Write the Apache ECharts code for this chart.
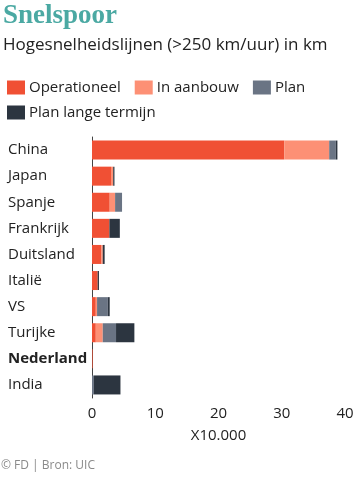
<!DOCTYPE html>
<html>
<head>
<meta charset="utf-8">
<script src="https://cdn.jsdelivr.net/npm/echarts@6/dist/echarts.min.js"></script>
<style>html,body{margin:0;padding:0;background:#fff}#c{width:360px;height:481px}</style>
</head>
<body>
<div id="c"></div>
<script>
var categories = ['China','Japan','Spanje','Frankrijk','Duitsland','Italië','VS','Turijke','Nederland','India'];
var operationeel = [30.4, 3.0, 2.8, 2.75, 1.5, 0.9, 0.6, 0.6, 0.1, 0];
var inAanbouw    = [7.1, 0.35, 0.85, 0, 0.2, 0, 0.2, 1.1, 0, 0];
var plan         = [1.05, 0, 1.1, 0, 0, 0, 1.7, 2.1, 0, 0.3];
var planLang     = [0.25, 0.2, 0, 1.65, 0.3, 0.2, 0.3, 2.9, 0, 4.2];
var seriesNames  = ['Operationeel','In aanbouw','Plan','Plan lange termijn'];
var xTicks = [0, 10, 20, 30, 40];

var colors = ['#f05034','#fd9075','#6a7484','#2c3540'];
var font = '"Open Sans", Lato, sans-serif';
var chart = echarts.init(document.getElementById('c'));
var dataSets = [operationeel, inAanbouw, plan, planLang];
var legendBase = {
  left: 7, padding: 0, itemWidth: 18, itemHeight: 14, itemGap: 14, icon: 'rect',
  textStyle: {fontFamily: font, fontSize: 15, color: '#222', padding: [0,0,0,-1]}
};
chart.setOption({
  animation: false,
  color: colors,
  title: [
    {text: 'Snelspoor', left: 3, top: 3, padding: 0, textStyle: {fontFamily: '"Liberation Serif", serif', fontWeight: 'bold', fontSize: 27, color: '#4ba9a3'}},
    {text: 'Hogesnelheidslijnen (>250 km/uur) in km', left: 3, top: 37, padding: 0, textStyle: {fontFamily: font, fontWeight: 'normal', fontSize: 17, color: '#222'}},
    {text: '© FD | Bron: UIC', left: 1, top: 460, padding: 0, textStyle: {fontFamily: font, fontWeight: 'normal', fontSize: 12, color: '#8a8a8a'}}
  ],
  legend: [
    Object.assign({}, legendBase, {top: 80, data: seriesNames.slice(0, 3)}),
    Object.assign({}, legendBase, {top: 105, data: seriesNames.slice(3)})
  ],
  grid: {left: 92, right: 15, top: 137, bottom: 83},
  xAxis: {
    type: 'value', min: 0, max: 40, interval: 10,
    name: 'X10.000', nameLocation: 'middle', nameGap: 30,
    nameTextStyle: {fontFamily: font, fontSize: 15, color: '#222'},
    axisLine: {show: false}, axisTick: {show: false}, splitLine: {show: false},
    axisLabel: {fontFamily: font, fontSize: 15, color: '#222', margin: 8,
      formatter: function(v){ return xTicks.indexOf(v) >= 0 ? String(v) : ''; }}
  },
  yAxis: {
    type: 'category', data: categories, inverse: true,
    axisLine: {show: true, lineStyle: {color: '#444', width: 1}},
    axisTick: {show: false},
    axisLabel: {
      align: 'left', margin: 84, fontFamily: font, fontSize: 15, color: '#222',
      formatter: function(v){ return v === 'Nederland' ? '{b|' + v + '}' : v; },
      rich: {b: {fontFamily: font, fontSize: 15, fontWeight: 'bold', color: '#222'}}
    }
  },
  series: seriesNames.map(function(n, i){
    return {name: n, type: 'bar', stack: 'a', barWidth: 19, data: dataSets[i],
      itemStyle: {color: colors[i]}};
  })
});
</script>
</body>
</html>
